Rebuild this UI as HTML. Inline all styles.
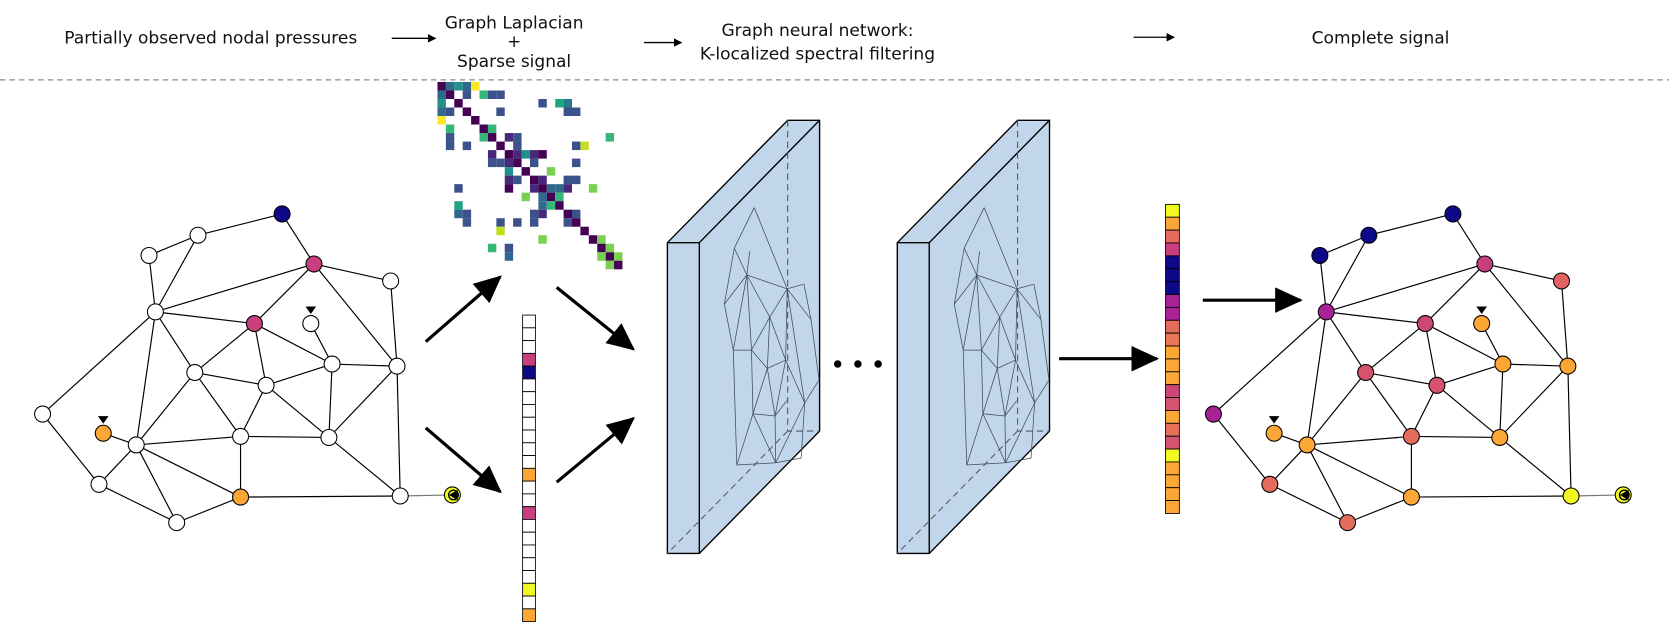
<!DOCTYPE html>
<html><head><meta charset="utf-8"><style>
body{margin:0;background:#fff;width:1669px;height:638px;overflow:hidden}
svg{position:absolute;left:0;top:0}
text{font-family:"DejaVu Sans","Liberation Sans",sans-serif;font-size:16px;fill:#111}
</style></head><body>
<svg id="s" width="1669" height="638" viewBox="0 0 1568 599.4" preserveAspectRatio="none">
<defs><marker id="ah" markerWidth="8" markerHeight="8" refX="7" refY="4" orient="auto" markerUnits="userSpaceOnUse"><path d="M0,0 L8,4 L0,8z" fill="#000"/></marker>
<marker id="big" markerWidth="26" markerHeight="24" refX="24" refY="12" orient="auto" markerUnits="userSpaceOnUse"><path d="M0,0 L26,12 L0,24z" fill="#000"/></marker></defs>
<text x="198" y="41" text-anchor="middle">Partially observed nodal pressures</text>
<line x1="368" y1="36" x2="409" y2="36" stroke="#000" stroke-width="1.2" marker-end="url(#ah)"/>
<text x="483" y="27" text-anchor="middle">Graph Laplacian</text>
<text x="483" y="44" text-anchor="middle">+</text>
<text x="483" y="63" text-anchor="middle">Sparse signal</text>
<line x1="605" y1="40" x2="640" y2="40" stroke="#000" stroke-width="1.2" marker-end="url(#ah)"/>
<text x="768" y="34" text-anchor="middle">Graph neural network:</text>
<text x="768" y="56" text-anchor="middle">K-localized spectral filtering</text>
<line x1="1065" y1="35" x2="1103" y2="35" stroke="#000" stroke-width="1.2" marker-end="url(#ah)"/>
<text x="1297" y="41" text-anchor="middle">Complete signal</text>
<line x1="0" y1="75" x2="1568" y2="75" stroke="#888" stroke-width="1.2" stroke-dasharray="5,4"/>
<g stroke="#000" stroke-width="3" fill="none">
<line x1="400" y1="321" x2="470" y2="260" marker-end="url(#big)"/>
<line x1="400" y1="402" x2="470" y2="462" marker-end="url(#big)"/>
<line x1="523" y1="270" x2="595" y2="328" marker-end="url(#big)"/>
<line x1="523" y1="453" x2="595" y2="393" marker-end="url(#big)"/>
<line x1="995" y1="337" x2="1087" y2="337" marker-end="url(#big)"/>
<line x1="1130" y1="282" x2="1222" y2="282" marker-end="url(#big)"/>
</g>
<g id="g"></g>
<circle cx="787" cy="342" r="3.5" fill="#000"/><circle cx="806" cy="342" r="3.5" fill="#000"/><circle cx="825" cy="342" r="3.5" fill="#000"/>
</svg>
<script>
const g=document.getElementById('g');let h='';
const N={a:[265,201],b:[295,248],c:[186,221],d:[140,240],e:[367,264],f:[146,293],g:[239,304],h:[292,304],i:[183,350],j:[250,362],k:[312,342],l:[373,344],m:[40,389],n:[97,407],o:[128,418],p:[226,410],q:[309,411],r:[93,455],s:[226,467],t:[376,466],u:[166,491],v:[425,465]};
const E="ac cd ab be bf bg bl df cf fg fm fi fo gi gj gk hk kl el ij io ip jp jk jq kq ql po pq ps on or ou os mr ru us st qt lt".split(' ');
const L={a:'#0d0887',b:'#c83e7f',g:'#c83e7f',n:'#fca636',s:'#fca636',v:'#f0f921'};
const R={a:'#0d0887',b:'#c83e7f',c:'#0d0887',d:'#0d0887',e:'#e16462',f:'#a82296',g:'#cc4778',h:'#fca636',i:'#d5536f',j:'#d5536f',k:'#fca636',l:'#fca636',m:'#a82296',n:'#fca636',o:'#fca636',p:'#e56b5d',q:'#fca636',r:'#e56b5d',s:'#fca636',t:'#f0f921',u:'#e56b5d',v:'#f0f921'};
function graph(dx,cols){
 for(const e of E){const A=N[e[0]],B=N[e[1]];h+=`<line x1="${A[0]+dx}" y1="${A[1]}" x2="${B[0]+dx}" y2="${B[1]}" stroke="#000" stroke-width="1.1"/>`;}
 h+=`<line x1="${376+dx}" y1="466" x2="${425+dx}" y2="465" stroke="#777" stroke-width="1.1"/>`;
 for(const k in N){const p=N[k];h+=`<circle cx="${p[0]+dx}" cy="${p[1]}" r="7.5" fill="${cols[k]||'#fff'}" stroke="#000" stroke-width="1"/>`;}
 for(const k of ['h','n']){const p=N[k];h+=`<path d="M${p[0]+dx-5},${p[1]-16} h10 l-5,7z"/>`;}
 const v=N.v;h+=`<path d="M${v[0]+dx+5},${v[1]-5} v10 l-8,-5z" fill="#000"/><circle cx="${v[0]+dx+1}" cy="${v[1]}" r="4.5" fill="none" stroke="#000" stroke-width="1.3"/>`;
}
graph(0,L);graph(1100,R);
const cells=[[0,0,'#440154'],[0,1,'#31688e'],[0,2,'#21918c'],[0,3,'#31688e'],[0,4,'#fde725'],[1,0,'#31688e'],[1,1,'#440154'],[1,3,'#3b528b'],[1,5,'#35b779'],[1,6,'#3b528b'],[1,7,'#3b528b'],[2,0,'#21918c'],[2,2,'#440154'],[2,12,'#3b528b'],[2,14,'#21a585'],[2,15,'#2a788e'],[3,0,'#31688e'],[3,1,'#3b528b'],[3,3,'#440154'],[3,7,'#3b528b'],[3,15,'#3b528b'],[3,16,'#3b528b'],[4,0,'#fde725'],[4,4,'#440154'],[5,1,'#35b779'],[5,5,'#440154'],[5,6,'#35b779'],[6,1,'#3b528b'],[6,5,'#35b779'],[6,6,'#440154'],[6,8,'#482878'],[6,9,'#3b528b'],[6,20,'#35b779'],[7,1,'#3b528b'],[7,3,'#3b528b'],[7,7,'#440154'],[7,9,'#3b528b'],[7,16,'#3b528b'],[7,17,'#c2df23'],[8,6,'#482878'],[8,8,'#440154'],[8,9,'#482878'],[8,10,'#21918c'],[8,11,'#482878'],[8,12,'#440154'],[9,6,'#3b528b'],[9,7,'#3b528b'],[9,8,'#482878'],[9,9,'#440154'],[9,11,'#3b528b'],[9,16,'#3b528b'],[10,8,'#21918c'],[10,10,'#440154'],[10,13,'#7ad151'],[11,8,'#482878'],[11,9,'#3b528b'],[11,11,'#440154'],[11,12,'#482878'],[11,15,'#3b528b'],[11,16,'#3b528b'],[12,2,'#3b528b'],[12,8,'#440154'],[12,11,'#482878'],[12,12,'#440154'],[12,13,'#31688e'],[12,14,'#31688e'],[12,15,'#482878'],[12,18,'#7ad151'],[13,10,'#7ad151'],[13,12,'#31688e'],[13,13,'#440154'],[13,14,'#35b779'],[14,2,'#21a585'],[14,12,'#31688e'],[14,13,'#35b779'],[14,14,'#440154'],[15,2,'#31688e'],[15,3,'#3b528b'],[15,11,'#3b528b'],[15,12,'#482878'],[15,15,'#440154'],[15,16,'#3b528b'],[16,3,'#3b528b'],[16,7,'#3b528b'],[16,9,'#3b528b'],[16,11,'#3b528b'],[16,15,'#3b528b'],[16,16,'#440154'],[17,7,'#c2df23'],[17,17,'#440154'],[18,12,'#7ad151'],[18,18,'#440154'],[18,19,'#7ad151'],[19,6,'#35b779'],[19,19,'#440154'],[19,20,'#7ad151'],[20,8,'#31688e'],[20,20,'#440154'],[20,19,'#7ad151'],[20,21,'#7ad151'],[21,20,'#7ad151'],[21,21,'#440154'],[19,8,'#3b528b']];
for(const [r,c,col] of cells)h+=`<rect x="${411+c*7.9}" y="${77+r*8}" width="7.9" height="8" fill="${col}"/>`;
const lv={3:'#c83e7f',4:'#0d0887',12:'#fca636',15:'#c83e7f',21:'#f0f921',23:'#fca636'};
for(let i=0;i<24;i++)h+=`<rect x="491" y="${296+i*12}" width="12" height="12" fill="${lv[i]||'#fff'}" stroke="#000" stroke-width="0.8"/>`;
const rv=['#f0f921','#fca636','#e56b5d','#c83e7f','#0d0887','#0d0887','#0d0887','#a82296','#a82296','#e56b5d','#eb7655','#fca636','#fca636','#fca636','#cc4778','#d5536f','#fca636','#e8705b','#d5536f','#f0f921','#fca636','#fca636','#fca636','#fca636'];
for(let i=0;i<24;i++)h+=`<rect x="1095" y="${192+i*12.1}" width="13" height="12.1" fill="${rv[i]}" stroke="#000" stroke-width="0.8"/>`;
function slab(dx){
 const X=x=>x+dx;
 h+=`<path d="M${X(627)},228 L${X(740)},113 L${X(770)},113 L${X(770)},405 L${X(657)},520 L${X(627)},520z" fill="#c1d6ea" stroke="#000" stroke-width="1.3"/>`;
 h+=`<path d="M${X(657)},228 L${X(770)},113 M${X(657)},228 V520 M${X(627)},228 H${X(657)}" stroke="#000" stroke-width="1.3" fill="none"/>`;
 h+=`<path d="M${X(740)},113 V405 H${X(770)} M${X(740)},405 L${X(627)},520" stroke="#556" stroke-width="1" stroke-dasharray="6,4" fill="none"/>`;
 const T=p=>{const x=p[0],y=p[1];return [X(765-(y-201)*0.3+(x-40)*0.02),195+(x-40)*0.72];};
 for(const e of E){const A=T(N[e[0]]),B=T(N[e[1]]);h+=`<line x1="${A[0]}" y1="${A[1]}" x2="${B[0]}" y2="${B[1]}" stroke="#3d4a5c" stroke-width="0.7"/>`;}
}
slab(0);slab(216);
g.innerHTML=h;
</script>
</body></html>
